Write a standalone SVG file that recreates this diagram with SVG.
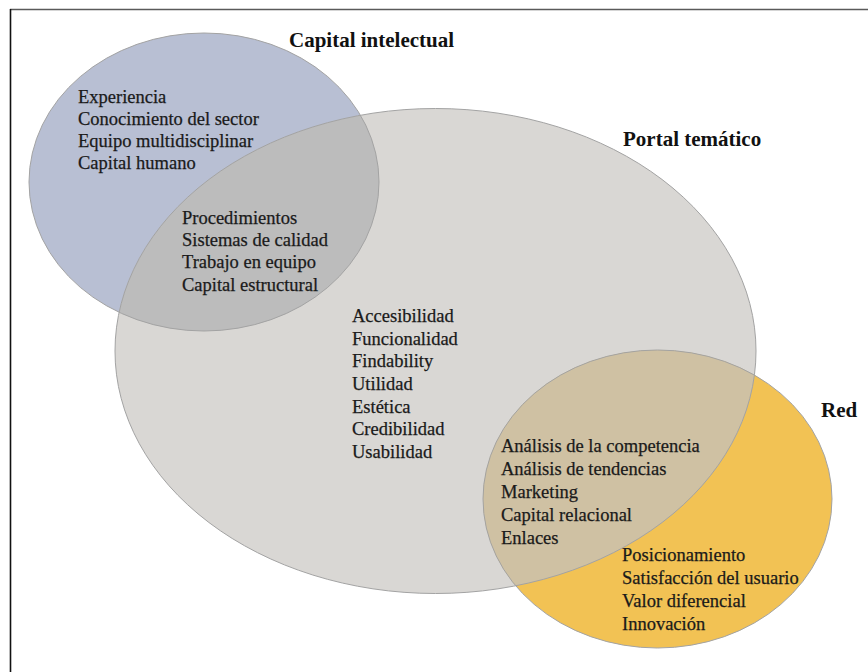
<svg xmlns="http://www.w3.org/2000/svg" width="868" height="672" viewBox="0 0 868 672">
  <style>
    .title { font-size: 21px; font-weight: bold; fill: #111; }
    .item { font-size: 18.5px; fill: #1a1a1a; stroke: #1a1a1a; stroke-width: 0.25px; }
    .edge { fill: none; stroke: #a3a3a3; stroke-width: 1; }
  </style>
  <defs>
    <clipPath id="clip-portal">
      <ellipse cx="435.5" cy="351" rx="320.5" ry="242.5"/>
    </clipPath>
    <clipPath id="clip-red">
      <ellipse cx="657.5" cy="499" rx="174.5" ry="149"/>
    </clipPath>
  </defs>

  <rect x="0" y="0" width="868" height="672" fill="#ffffff"/>

  <!-- frame: top and left rules -->
  <line x1="10" y1="9.5" x2="868" y2="9.5" stroke="#5a5a5a" stroke-width="1.6"/>
  <line x1="10.5" y1="9" x2="10.5" y2="672" stroke="#111" stroke-width="1.6"/>

  <!-- base fills -->
  <ellipse cx="204" cy="182" rx="175" ry="149" fill="#b8bfd3"/>
  <ellipse cx="435.5" cy="351" rx="320.5" ry="242.5" fill="#d9d7d4"/>
  <ellipse cx="657.5" cy="499" rx="174.5" ry="149" fill="#f2c254"/>

  <!-- overlap fills -->
  <ellipse cx="204" cy="182" rx="175" ry="149" fill="#bcbcbc" clip-path="url(#clip-portal)"/>
  <ellipse cx="435.5" cy="351" rx="320.5" ry="242.5" fill="#cfc1a3" clip-path="url(#clip-red)"/>

  <!-- outlines -->
  <ellipse class="edge" cx="204" cy="182" rx="175" ry="149"/>
  <ellipse class="edge" cx="435.5" cy="351" rx="320.5" ry="242.5"/>
  <ellipse class="edge" cx="657.5" cy="499" rx="174.5" ry="149"/>

  <g font-family="'Liberation Serif', 'Times New Roman', serif">
    <g id="capital-intelectual">
      <text class="title" x="289" y="47">Capital intelectual</text>
      <text class="item" x="78" y="103">Experiencia</text>
      <text class="item" x="78" y="125">Conocimiento del sector</text>
      <text class="item" x="78" y="147">Equipo multidisciplinar</text>
      <text class="item" x="78" y="169">Capital humano</text>
    </g>

    <g id="capital-estructural">
      <text class="item" x="182" y="224">Procedimientos</text>
      <text class="item" x="182" y="246">Sistemas de calidad</text>
      <text class="item" x="182" y="268">Trabajo en equipo</text>
      <text class="item" x="182" y="291">Capital estructural</text>
    </g>

    <g id="portal-tematico">
      <text class="title" x="623" y="146">Portal temático</text>
      <text class="item" x="352" y="322">Accesibilidad</text>
      <text class="item" x="352" y="345">Funcionalidad</text>
      <text class="item" x="352" y="367">Findability</text>
      <text class="item" x="352" y="390">Utilidad</text>
      <text class="item" x="352" y="413">Estética</text>
      <text class="item" x="352" y="435">Credibilidad</text>
      <text class="item" x="352" y="458">Usabilidad</text>
    </g>

    <g id="capital-relacional">
      <text class="item" x="501" y="452">Análisis de la competencia</text>
      <text class="item" x="501" y="475">Análisis de tendencias</text>
      <text class="item" x="501" y="498">Marketing</text>
      <text class="item" x="501" y="521">Capital relacional</text>
      <text class="item" x="501" y="544">Enlaces</text>
    </g>

    <g id="red">
      <text class="title" x="821" y="417">Red</text>
      <text class="item" x="622" y="561">Posicionamiento</text>
      <text class="item" x="622" y="584">Satisfacción del usuario</text>
      <text class="item" x="622" y="607">Valor diferencial</text>
      <text class="item" x="622" y="630">Innovación</text>
    </g>
  </g>
</svg>
